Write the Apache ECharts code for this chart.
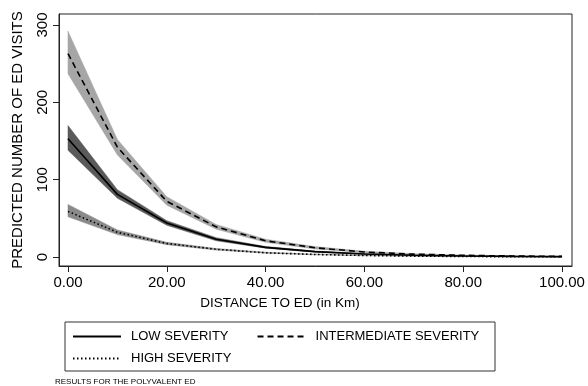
<!DOCTYPE html>
<html><head><meta charset="utf-8">
<script src="https://cdn.jsdelivr.net/npm/echarts@6/dist/echarts.min.js"></script>
<style>html,body{margin:0;padding:0;background:#fff}#c{width:588px;height:386px}</style>
</head><body><div id="c"></div>
<script>
const distances = [0, 10, 20, 30, 40, 50, 60, 70, 80, 90, 100];
const xTicks = [0, 20, 40, 60, 80, 100];
const yTicks = [0, 100, 200, 300];

const lowMid = [153, 81, 44, 23, 12.5, 7, 4, 2.3, 1.4, 0.8, 0.5];
const lowLo  = [138, 76, 41, 21, 11.5, 6.3, 3.5, 2, 1.2, 0.7, 0.4];
const lowHi  = [170, 87, 47, 25, 13.6, 7.7, 4.4, 2.6, 1.6, 1.0, 0.6];

const interMid = [263, 142, 72, 39, 21, 12, 6.5, 3.7, 2.2, 1.3, 0.8];
const interLo  = [237, 132, 67, 36, 19, 10.5, 5.6, 3.1, 1.8, 1.0, 0.6];
const interHi  = [292, 152, 78, 42, 23, 13.5, 7.5, 4.3, 2.6, 1.6, 1.0];

const highMid = [59, 32, 17.5, 10, 5.5, 3.3, 2, 1.2, 0.7, 0.45, 0.3];
const highLo  = [52, 29, 16, 9, 5, 2.9, 1.7, 1.0, 0.6, 0.4, 0.25];
const highHi  = [68, 35, 19, 11, 6.2, 3.7, 2.3, 1.4, 0.85, 0.55, 0.35];

const seriesNames = ['LOW SEVERITY', 'INTERMEDIATE SEVERITY', 'HIGH SEVERITY'];

const pairs = arr => distances.map((d, i) => [d, arr[i]]);

function band(key, lo, hi, color) {
  const rows = distances.map((d, i) => [d, lo[i], hi[i]]);
  return {
    name: key + '_band', type: 'custom', silent: true, z: 1,
    data: rows,
    encode: { x: 0, y: [1, 2] },
    renderItem: function (params, api) {
      if (params.dataIndex !== 0) return null;
      const top = rows.map(r => api.coord([r[0], r[2]]));
      const bottom = rows.map(r => api.coord([r[0], r[1]])).reverse();
      return {
        type: 'polygon',
        shape: { points: top.concat(bottom) },
        style: { fill: color, stroke: color, lineWidth: 0.5 }
      };
    }
  };
}

const font = 'Liberation Sans, Arial, Helvetica, sans-serif';
const chart = echarts.init(document.getElementById('c'), null, { renderer: 'canvas' });
chart.setOption({
  animation: false,
  backgroundColor: '#fff',
  textStyle: { fontFamily: font, color: '#000' },
  title: [
    { text: 'DISTANCE TO ED (in Km)', left: 275, top: 291, textAlign: 'center',
      textStyle: { fontSize: 13.5, fontWeight: 'normal', color: '#000', fontFamily: font } },
    { text: 'RESULTS FOR THE POLYVALENT ED', left: 50, top: 373,
      textStyle: { fontSize: 8, fontWeight: 'normal', color: '#000', fontFamily: font } }
  ],
  grid: { left: 59, right: 16, top: 14, bottom: 120, show: true, borderColor: '#222', borderWidth: 1, backgroundColor: '#fff' },
  xAxis: {
    type: 'value', min: -1.82, max: 102.02,
    axisLine: { show: true, onZero: false, lineStyle: { color: '#222', width: 1 } },
    axisTick: { show: true, customValues: xTicks, length: 6, lineStyle: { color: '#222' } },
    axisLabel: { customValues: xTicks, formatter: v => v.toFixed(2), fontSize: 15, color: '#000', margin: 9, fontFamily: font },
    splitLine: { show: false }
  },
  yAxis: {
    type: 'value', min: -11.6, max: 314.2,
    name: 'PREDICTED NUMBER OF ED VISITS', nameLocation: 'middle', nameRotate: 90, nameGap: 34,
    nameTextStyle: { fontSize: 15, color: '#000', fontFamily: font },
    axisLine: { show: true, onZero: false, lineStyle: { color: '#222', width: 1 } },
    axisTick: { show: true, customValues: yTicks, length: 6, lineStyle: { color: '#222' } },
    axisLabel: { customValues: yTicks, rotate: 90, fontSize: 15, color: '#000', margin: 9, fontFamily: font },
    splitLine: { show: false }
  },
  legend: [
    { data: [seriesNames[0], seriesNames[1]], left: 67, top: 325, itemWidth: 48, itemHeight: 14, itemGap: 28,
      itemStyle: { opacity: 0 },
      textStyle: { fontSize: 13, color: '#000', fontFamily: font, padding: [0, 0, 0, 5] } },
    { data: [seriesNames[2]], left: 67, top: 347, itemWidth: 48, itemHeight: 14,
      itemStyle: { opacity: 0 },
      textStyle: { fontSize: 13, color: '#000', fontFamily: font, padding: [0, 0, 0, 5] } }
  ],
  graphic: [
    { type: 'rect', shape: { x: 65, y: 322, width: 430, height: 49 }, style: { fill: 'none', stroke: '#333', lineWidth: 1 }, z: -1 }
  ],
  series: [
    band('inter', interLo, interHi, '#a6a6a6'),
    band('low', lowLo, lowHi, '#5a5a5a'),
    band('high', highLo, highHi, '#8a8a8a'),
    { name: seriesNames[1], type: 'line', data: pairs(interMid), symbol: 'none', z: 3,
      itemStyle: { color: '#000' }, lineStyle: { color: '#000', width: 1.6, type: [6, 4] } },
    { name: seriesNames[0], type: 'line', data: pairs(lowMid), symbol: 'none', z: 3,
      itemStyle: { color: '#000' }, lineStyle: { color: '#000', width: 1.6, type: 'solid' } },
    { name: seriesNames[2], type: 'line', data: pairs(highMid), symbol: 'none', z: 3,
      itemStyle: { color: '#000' }, lineStyle: { color: '#000', width: 1.6, type: [1.5, 2.5] } }
  ]
});
</script></body></html>
